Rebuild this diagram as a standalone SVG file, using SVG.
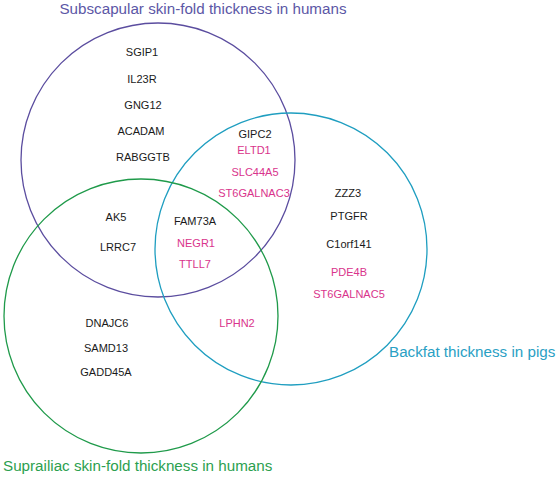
<svg xmlns="http://www.w3.org/2000/svg" width="558" height="478" viewBox="0 0 558 478">
<style>
  text { font-family: "Liberation Sans", Arial, sans-serif; }
  .set { fill: none; stroke-width: 1.3; }
  .title { font-size: 15.2px; }
  .gene { font-size: 11px; text-anchor: middle; fill: #1a1a1a; }
  .hl { fill: #d9348c; }
  .sub { stroke: #5b4d9f; }
  .pig { stroke: #1f9ec0; }
  .sup { stroke: #1f9a4a; }
</style>
<rect width="558" height="478" fill="#ffffff"/>
<g id="set-subscapular">
  <circle class="set sub" cx="158" cy="160" r="137"/>
  <text class="title" x="203" y="14" text-anchor="middle" fill="#5c57a6">Subscapular skin-fold thickness in humans</text>
</g>
<g id="set-backfat">
  <circle class="set pig" cx="291" cy="249" r="136"/>
  <text class="title" x="389" y="357" fill="#2aa0c4">Backfat thickness in pigs</text>
</g>
<g id="set-suprailiac">
  <circle class="set sup" cx="141" cy="316" r="137"/>
  <text class="title" x="3" y="471" fill="#2c9f4f">Suprailiac skin-fold thickness in humans</text>
</g>
<g id="genes-subscapular-only">
  <text class="gene" x="142" y="56">SGIP1</text>
  <text class="gene" x="142" y="83">IL23R</text>
  <text class="gene" x="143" y="109">GNG12</text>
  <text class="gene" x="141" y="135">ACADAM</text>
  <text class="gene" x="143" y="161">RABGGTB</text>
</g>
<g id="genes-subscapular-backfat">
  <text class="gene" x="255" y="138">GIPC2</text>
  <text class="gene hl" x="254" y="154">ELTD1</text>
  <text class="gene hl" x="255" y="176">SLC44A5</text>
  <text class="gene hl" x="254" y="197">ST6GALNAC3</text>
</g>
<g id="genes-backfat-only">
  <text class="gene" x="348" y="197">ZZZ3</text>
  <text class="gene" x="349" y="220">PTGFR</text>
  <text class="gene" x="349" y="248">C1orf141</text>
  <text class="gene hl" x="349" y="276">PDE4B</text>
  <text class="gene hl" x="349" y="298">ST6GALNAC5</text>
</g>
<g id="genes-subscapular-suprailiac">
  <text class="gene" x="116" y="221">AK5</text>
  <text class="gene" x="118" y="251">LRRC7</text>
</g>
<g id="genes-all-three">
  <text class="gene" x="195" y="225">FAM73A</text>
  <text class="gene hl" x="196" y="247">NEGR1</text>
  <text class="gene hl" x="195" y="268">TTLL7</text>
</g>
<g id="genes-suprailiac-backfat">
  <text class="gene hl" x="237" y="327">LPHN2</text>
</g>
<g id="genes-suprailiac-only">
  <text class="gene" x="107" y="327">DNAJC6</text>
  <text class="gene" x="106" y="352">SAMD13</text>
  <text class="gene" x="106" y="376">GADD45A</text>
</g>
</svg>
